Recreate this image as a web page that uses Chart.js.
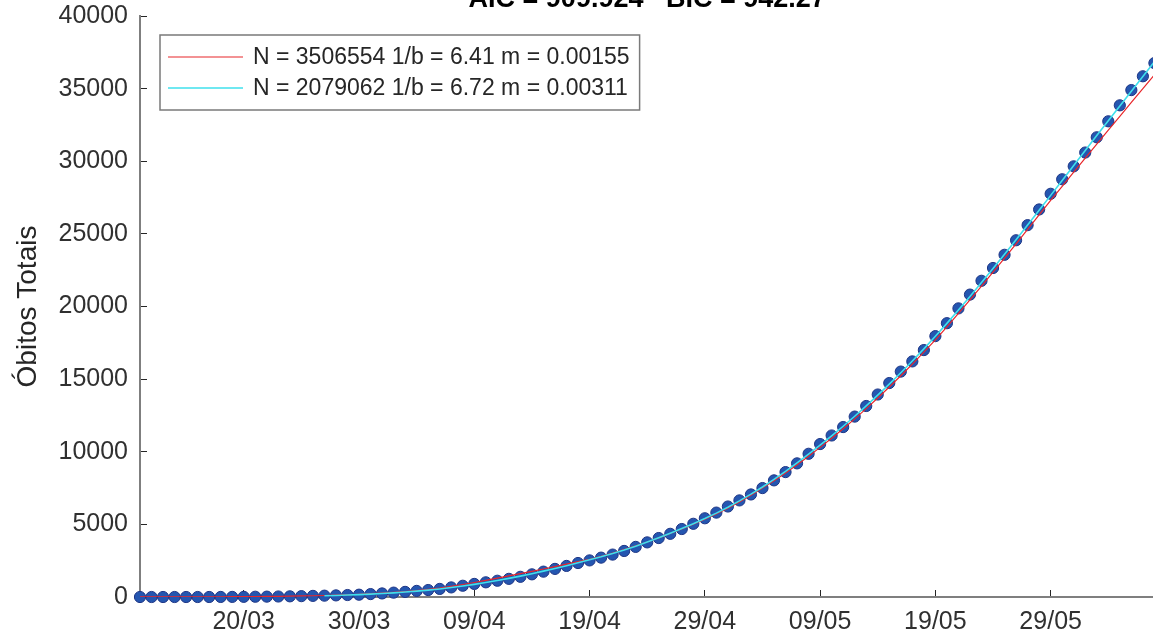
<!DOCTYPE html>
<html>
<head>
<meta charset="utf-8">
<script src="https://cdn.jsdelivr.net/npm/chart.js@4.4.1/dist/chart.umd.min.js"></script>
<style>
html,body{margin:0;padding:0;background:#fff;overflow:hidden}
#wrap{position:relative;width:1153px;height:642px;overflow:hidden}
#c{position:absolute;left:0;top:-20px}
</style>
</head>
<body>
<div id="wrap"><canvas id="c" width="1161" height="662"></canvas></div>
<script>
// ---- data ----
const dates = [
  '11/03','12/03','13/03','14/03','15/03','16/03','17/03','18/03','19/03','20/03','21/03','22/03','23/03','24/03','25/03','26/03','27/03','28/03','29/03','30/03','31/03',
  '01/04','02/04','03/04','04/04','05/04','06/04','07/04','08/04','09/04','10/04','11/04','12/04','13/04','14/04','15/04','16/04','17/04','18/04','19/04','20/04','21/04','22/04','23/04','24/04','25/04','26/04','27/04','28/04','29/04','30/04',
  '01/05','02/05','03/05','04/05','05/05','06/05','07/05','08/05','09/05','10/05','11/05','12/05','13/05','14/05','15/05','16/05','17/05','18/05','19/05','20/05','21/05','22/05','23/05','24/05','25/05','26/05','27/05','28/05','29/05','30/05','31/05',
  '01/06','02/06','03/06','04/06','05/06','06/06','07/06'
];
const deaths = [
  0,0,0,0,0,0,1,4,7,11,18,25,34,46,59,77,92,111,136,159,201,
  245,300,352,420,480,556,660,775,900,1010,1120,1250,1390,1560,1745,1935,2140,2340,2520,2710,2920,3170,3450,3760,4060,4350,4680,5040,5420,5810,
  6230,6650,7060,7500,8030,8600,9200,9860,10530,11120,11700,12420,13150,13940,14730,15520,16220,17000,17960,18850,19870,20820,21770,22650,23560,24560,25600,26680,27760,28760,29650,
  30600,31650,32750,33850,34900,35850,36760
];
const fitRed = [
  2,3,4,5,7,9,12,15,19,24,30,38,47,58,71,86,104,125,155,190,228,
  270,318,375,442,522,618,732,860,1000,1145,1295,1450,1610,1770,1930,2095,2260,2430,2600,2800,3020,3260,3515,3785,4070,4370,4685,5010,5350,5720,
  6120,6550,7010,7500,8010,8545,9105,9695,10300,10930,11585,12265,12970,13700,14455,15230,16030,16855,17700,18600,19520,20455,21405,22365,23335,24315,25305,26300,27300,28275,29245,
  30210,31175,32135,33095,34050,35000,35950
];
const fitCyan = [
  null,null,null,null,null,null,null,null,null,null,null,null,null,null,null,null,85,108,135,165,200,
  240,286,340,402,474,556,650,755,870,996,1133,1280,1437,1604,1780,1965,2158,2357,2560,2765,2990,3235,3500,3780,4075,4385,4710,5050,5400,5775,
  6180,6615,7080,7575,8100,8650,9230,9835,10450,11090,11755,12445,13160,13900,14660,15440,16245,17085,17950,18840,19755,20690,21645,22615,23600,24595,25605,26625,27650,28680,29715,
  30740,31765,32785,33805,34825,35840,36850
];
const tickLabels = ['20/03','30/03','09/04','19/04','29/04','09/05','19/05','29/05'];
const yMin = 0, yMax = 40000, yStep = 5000;
const seriesNames = ['N = 3506554 1/b = 6.41 m = 0.00155', 'N = 2079062 1/b = 6.72 m = 0.00311'];
const chartTitle = 'AIC = 909.924   BIC = 942.27';
const yTitle = 'Óbitos Totais';

// ---- chart ----
const FONT = '"Liberation Sans", Arial, Helvetica, sans-serif';
Chart.defaults.font.family = FONT;
Chart.defaults.color = '#303030';

const legendBox = {
  id: 'legendBox',
  afterDatasetsDraw(chart) {
    const {ctx, chartArea} = chart;
    const items = chart.data.datasets
      .filter(d => d.legendIndex !== undefined)
      .sort((a, b) => a.legendIndex - b.legendIndex);
    ctx.save();
    ctx.font = '23px ' + FONT;
    const textW = Math.max(...items.map(d => ctx.measureText(d.label).width));
    const x0 = chartArea.left + 20, y0 = chartArea.top + 19;
    const padL = 8, lineLen = 75, gap = 10, padR = 10, rowH = 31, firstRow = 22;
    const w = padL + lineLen + gap + textW + padR;
    const h = firstRow * 2 + rowH * (items.length - 1);
    ctx.fillStyle = '#ffffff';
    ctx.fillRect(x0, y0, w, h);
    ctx.strokeStyle = '#7a7a7a';
    ctx.lineWidth = 1.5;
    ctx.strokeRect(x0, y0, w, h);
    items.forEach((d, i) => {
      const yy = y0 + firstRow + i * rowH;
      ctx.strokeStyle = d.borderColor;
      ctx.lineWidth = d.borderWidth;
      ctx.beginPath();
      ctx.moveTo(x0 + padL, yy);
      ctx.lineTo(x0 + padL + lineLen, yy);
      ctx.stroke();
      ctx.fillStyle = '#262626';
      ctx.textBaseline = 'middle';
      ctx.textAlign = 'left';
      ctx.fillText(d.label, x0 + padL + lineLen + gap, yy + 1);
    });
    ctx.restore();
  }
};

new Chart(document.getElementById('c'), {
  type: 'line',
  data: {
    labels: dates,
    datasets: [
      {
        label: seriesNames[1],
        data: fitCyan,
        legendIndex: 1,
        borderColor: '#3fe0ec',
        borderWidth: 1.6,
        pointRadius: 0,
        fill: false,
        tension: 0,
        spanGaps: false,
        order: 1
      },
      {
        label: seriesNames[0],
        data: fitRed,
        legendIndex: 0,
        borderColor: '#e8262a',
        borderWidth: 1.2,
        pointRadius: 0,
        fill: false,
        tension: 0,
        order: 2
      },
      {
        label: 'Óbitos',
        data: deaths,
        showLine: false,
        pointRadius: 5.6,
        pointBackgroundColor: '#2456b0',
        pointBorderColor: '#1e3585',
        pointBorderWidth: 1,
        clip: false,
        order: 3
      }
    ]
  },
  options: {
    responsive: false,
    animation: false,
    devicePixelRatio: 1,
    layout: { padding: { left: 0, right: 0, top: 0, bottom: 0 } },
    plugins: {
      legend: { display: false },
      tooltip: { enabled: false },
      title: {
        display: true,
        text: chartTitle,
        fullSize: false,
        color: '#000000',
        font: { size: 27, weight: 'bold', family: FONT },
        padding: { top: 3, bottom: 0.6 }
      }
    },
    scales: {
      x: {
        type: 'category',
        offset: false,
        ticks: {
          autoSkip: false,
          maxRotation: 0,
          minRotation: 0,
          padding: 17,
          color: '#303030',
          font: { size: 25 },
          callback: function (v, i) {
            const l = dates[i];
            return tickLabels.includes(l) ? l : null;
          }
        },
        grid: { display: true, drawOnChartArea: false, drawTicks: true, tickLength: -7, color: '#262626', lineWidth: 1 },
        border: { display: true, color: '#7f7f7f', width: 2 },
        afterFit: s => { s.height = 45; }
      },
      y: {
        min: yMin,
        max: yMax,
        ticks: {
          stepSize: yStep,
          padding: 19,
          color: '#303030',
          font: { size: 25 },
          callback: v => String(v)
        },
        grid: { display: true, drawOnChartArea: false, drawTicks: true, tickLength: -7, color: '#262626', lineWidth: 1 },
        border: { display: true, color: '#7f7f7f', width: 2 },
        title: {
          display: true,
          text: yTitle,
          color: '#262626',
          font: { size: 28 },
          padding: { top: 11, bottom: 0 }
        },
        afterFit: s => { s.width = 140; }
      }
    }
  },
  plugins: [legendBox]
});
</script>
</body>
</html>
